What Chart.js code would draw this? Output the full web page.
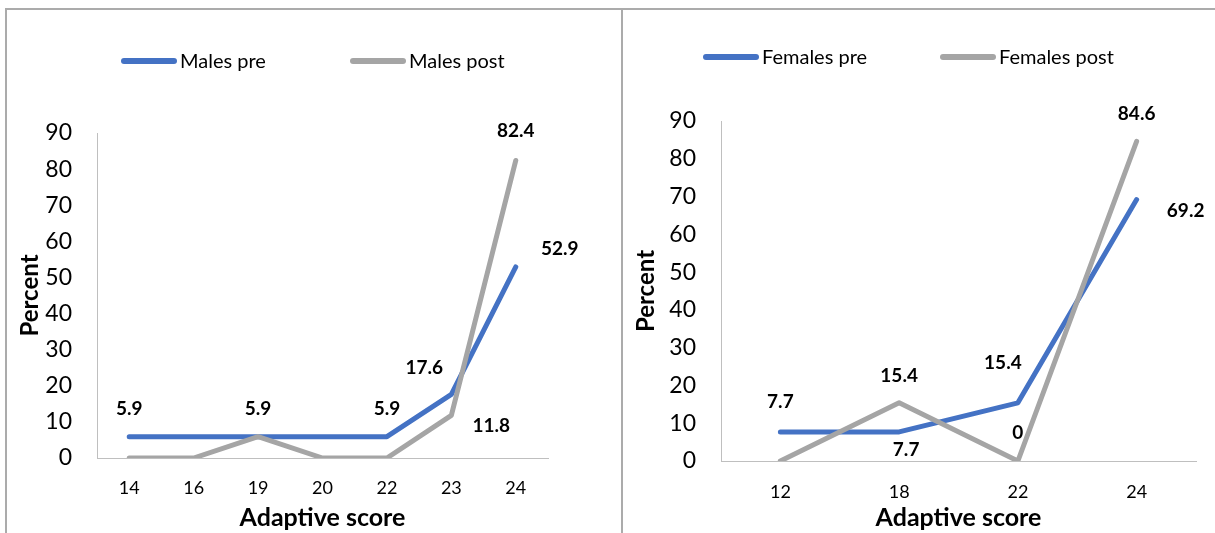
<!DOCTYPE html>
<html>
<head>
<meta charset="utf-8">
<script src="https://cdn.jsdelivr.net/npm/chart.js@4/dist/chart.umd.min.js"></script>
<style>
  html, body { margin: 0; padding: 0; background: #fff; }
  body { width: 1215px; height: 533px; position: relative; overflow: hidden; }
  .frame-top { position: absolute; left: 5px; top: 8px; width: 1210px; height: 2px; background: #ababab; }
  .frame-left { position: absolute; left: 5px; top: 8px; width: 2px; height: 525px; background: #ababab; }
  .frame-mid { position: absolute; left: 621px; top: 8px; width: 2px; height: 525px; background: #ababab; }
  .panel { position: absolute; top: 10px; height: 523px; }
  #males { left: 7px; width: 614px; }
  #females { left: 623px; width: 592px; }
</style>
</head>
<body>
<div class="frame-top"></div>
<div class="frame-left"></div>
<div class="frame-mid"></div>
<div class="panel" id="males"><canvas id="malesChart" width="614" height="523"></canvas></div>
<div class="panel" id="females"><canvas id="femalesChart" width="592" height="523"></canvas></div>
<script>
// Adaptive score distribution (percent), before and after
const malesScores = ['14', '16', '19', '20', '22', '23', '24'];
const malesPre = [5.9, 5.9, 5.9, 5.9, 5.9, 17.6, 52.9];
const malesPost = [0, 0, 5.9, 0, 0, 11.8, 82.4];

const femalesScores = ['12', '18', '22', '24'];
const femalesPre = [7.7, 7.7, 15.4, 69.2];
const femalesPost = [0, 15.4, 0, 84.6];

const yTicks = [0, 10, 20, 30, 40, 50, 60, 70, 80, 90];

const BLUE = '#4472C4';
const GREY = '#A5A5A5';
const FONT = 'Lato, "Open Sans", sans-serif';

// Value labels: offset of each label from its point (null = no label)
const malesLabelPlacement = {
  pre:  [[0, -28], null, [0, -28], null, [0, -28], [-27, -27], [44, -18]],
  post: [null, null, null, null, null, [40, 10], [0, -30]]
};
const femalesLabelPlacement = {
  pre:  [[0, -30], [7, 18], [-15, -40], [49, 11]],
  post: [null, [0, -27], [0, -28], [0, -28]]
};

const valueLabels = {
  id: 'valueLabels',
  afterDatasetsDraw(chart, args, opts) {
    const ctx = chart.ctx;
    ctx.save();
    ctx.font = 'bold 19px ' + FONT;
    ctx.fillStyle = '#000';
    ctx.textAlign = 'center';
    ctx.textBaseline = 'middle';
    chart.data.datasets.forEach((ds, di) => {
      const place = opts.placement[ds.key];
      const meta = chart.getDatasetMeta(di);
      meta.data.forEach((pt, i) => {
        const off = place[i];
        if (!off) return;
        ctx.fillText(String(ds.data[i]), pt.x + off[0], pt.y + off[1]);
      });
    });
    ctx.restore();
  }
};

// Legend drawn as rounded line swatches followed by the series name
const lineLegend = {
  id: 'lineLegend',
  afterDraw(chart, args, opts) {
    const ctx = chart.ctx;
    ctx.save();
    ctx.font = '20px ' + FONT;
    ctx.textBaseline = 'middle';
    ctx.textAlign = 'left';
    chart.data.datasets.forEach((ds, di) => {
      const x = opts.x[di];
      ctx.strokeStyle = ds.borderColor;
      ctx.lineWidth = 6;
      ctx.lineCap = 'round';
      ctx.beginPath();
      ctx.moveTo(x + 3, opts.y);
      ctx.lineTo(x + 53, opts.y);
      ctx.stroke();
      ctx.fillStyle = '#000';
      ctx.fillText(ds.label, x + 59, opts.y + 1);
    });
    ctx.restore();
  }
};

function makeChart(canvasId, labels, pre, post, names, placement, geom) {
  const lineStyle = {
    borderWidth: 5,
    pointRadius: 0,
    tension: 0,
    borderCapStyle: 'round',
    borderJoinStyle: 'round',
    fill: false
  };
  return new Chart(document.getElementById(canvasId), {
    type: 'line',
    data: {
      labels: labels,
      datasets: [
        Object.assign({ key: 'pre', label: names[0], data: pre, borderColor: BLUE, backgroundColor: BLUE, order: 1 }, lineStyle),
        Object.assign({ key: 'post', label: names[1], data: post, borderColor: GREY, backgroundColor: GREY, order: 0 }, lineStyle)
      ]
    },
    options: {
      responsive: false,
      animation: false,
      devicePixelRatio: 1,
      layout: { padding: { left: 0, right: geom.right, top: geom.top, bottom: 0 } },
      plugins: {
        legend: { display: false },
        tooltip: { enabled: false },
        valueLabels: { placement: placement },
        lineLegend: { x: geom.legendX, y: geom.legendY }
      },
      scales: {
        x: {
          type: 'category',
          offset: true,
          grid: { display: false, drawTicks: false },
          border: { display: true, color: '#bfbfbf', width: 1 },
          ticks: { color: '#000', font: { family: FONT, size: 18 }, padding: geom.xTickPad, maxRotation: 0 },
          title: { display: true, text: 'Adaptive score', color: '#000', font: { family: FONT, size: 25, weight: 'bold' }, padding: { top: 0, bottom: 0 } },
          afterFit(scale) { scale.height = geom.xHeight; }
        },
        y: {
          min: 0,
          max: 90,
          afterBuildTicks(scale) { scale.ticks = yTicks.map(v => ({ value: v })); },
          grid: { display: false, drawTicks: false },
          border: { display: true, color: '#bfbfbf', width: 1 },
          ticks: { color: '#000', font: { family: FONT, size: 23 }, padding: 25 },
          title: { display: true, text: 'Percent', color: '#000', font: { family: FONT, size: 24, weight: 'bold' }, padding: { top: 9, bottom: 0 } },
          afterFit(scale) { scale.width = geom.yWidth; }
        }
      }
    },
    plugins: [valueLabels, lineLegend]
  });
}

makeChart('malesChart', malesScores, malesPre, malesPost, ['Males pre', 'Males post'], malesLabelPlacement,
  { right: 73, top: 123, yWidth: 90, xHeight: 75, xTickPad: 19, legendX: [114, 343], legendY: 51 });

makeChart('femalesChart', femalesScores, femalesPre, femalesPost, ['Females pre', 'Females post'], femalesLabelPlacement,
  { right: 19, top: 111, yWidth: 98, xHeight: 72, xTickPad: 20, legendX: [80, 317], legendY: 47 });
</script>
</body>
</html>
